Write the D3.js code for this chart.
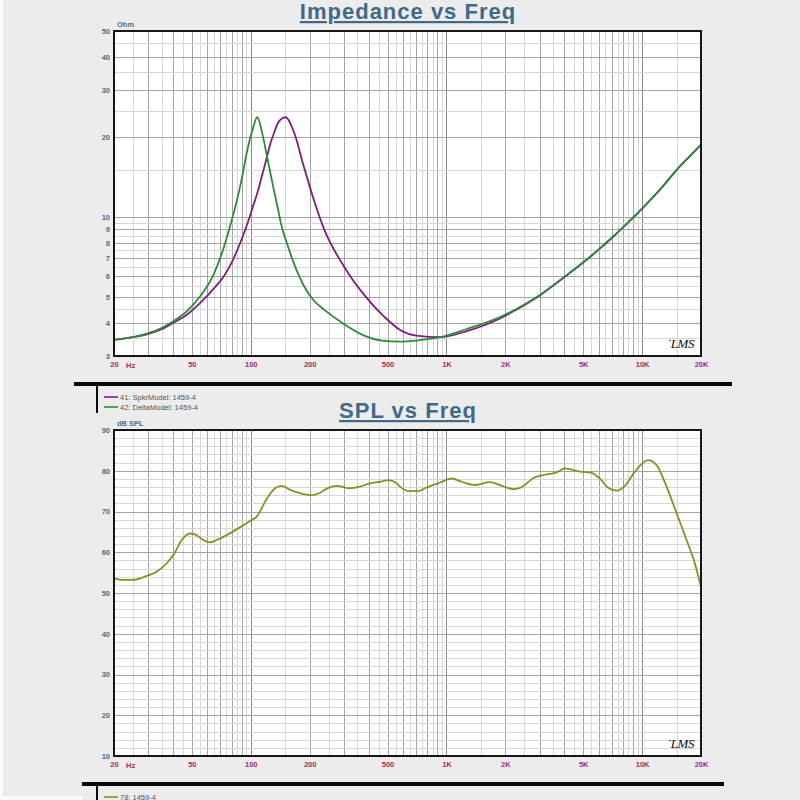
<!doctype html>
<html>
<head>
<meta charset="utf-8">
<title>Impedance / SPL vs Freq</title>
<script src="https://cdnjs.cloudflare.com/ajax/libs/d3/7.8.5/d3.min.js"></script>
<style>
  body { margin: 0; background: #ececec; }
  svg { display: block; font-family: "Liberation Sans", Arial, sans-serif; }
</style>
</head>
<body>
<svg width="800" height="800"></svg>
<script>

/* DATA */

// impedance, both models on the same frequency points
var impFreq  = [20, 25, 30, 35, 40, 47, 55, 65, 73, 80, 89, 96, 100, 102, 108, 115, 121, 126, 131, 137, 145, 151,
                166, 187, 210, 237, 300, 380, 480, 580, 700, 930, 1270, 1880, 2240, 3000, 4000, 5000, 6000, 7000,
                8000, 9000, 10000, 12500, 15000, 17500, 20000];
var impSpkr  = [3.45, 3.53, 3.63, 3.78, 3.99, 4.28, 4.74, 5.40, 6.0, 6.75, 8.1, 9.4, 10.3, 10.8, 12.3, 14.6, 16.8, 18.9, 20.5, 22.4, 23.5, 23.7,
                20.9, 15.4, 11.6, 9.0, 6.5, 5.09, 4.22, 3.76, 3.58, 3.53, 3.72, 4.15, 4.45, 5.07, 5.93, 6.73, 7.53, 8.33,
                9.13, 9.93, 10.75, 12.8, 15.0, 16.9, 18.7];
var impDelta = [3.45, 3.53, 3.66, 3.82, 4.04, 4.41, 5.02, 6.14, 7.73, 9.73, 13.4, 17.8, 20.2, 21.2, 23.7, 20.3, 16.9, 14.6, 12.7, 10.9, 9.0, 8.2,
                6.7, 5.5, 4.85, 4.48, 3.95, 3.58, 3.42, 3.4, 3.43, 3.53, 3.79, 4.2, 4.48, 5.09, 5.95, 6.75, 7.55, 8.35,
                9.15, 9.95, 10.75, 12.8, 15.0, 16.9, 18.7];

// SPL response
var splFreq  = [20, 22.3, 25, 29.4, 33, 37.2, 40.2, 44.4, 48.9, 51.9, 57.2, 61.9, 67, 75.3, 88, 101, 107, 121, 133, 144,
                159, 178, 205, 226, 249, 275, 321, 361, 407, 457, 504, 557, 579, 651, 718, 792, 927, 1063, 1196, 1399,
                1669, 1878, 2195, 2376, 2832, 3250, 3658, 4032, 4808, 5520, 6082, 6710, 7413, 8170, 9190, 10750,
                11860, 13340, 15000, 16880, 18600, 20000];
var splLevel = [53.6, 53.2, 53.2, 54.2, 55.2, 57.3, 59.3, 63.0, 64.6, 64.4, 63.0, 62.4, 63.0, 64.2, 66.1, 67.9, 68.7, 73.2, 75.7, 76.3,
                75.3, 74.5, 74.0, 74.6, 75.8, 76.3, 75.7, 76.1, 76.9, 77.3, 77.7, 76.9, 76.1, 75.0, 75.0, 75.9, 77.1, 78.1, 77.3, 76.5,
                77.2, 76.5, 75.5, 75.8, 78.4, 79.1, 79.6, 80.6, 79.8, 79.5, 78.1, 75.8, 75.1, 76.3, 79.8, 82.6,
                81.4, 76.1, 69.6, 63.0, 57.3, 51.5];

// ticks
var freqTicks  = [20, 50, 100, 200, 500, 1000, 2000, 5000, 10000, 20000];
var freqLabels = ["20", "50", "100", "200", "500", "1K", "2K", "5K", "10K", "20K"];
var ohmTicks   = [3, 4, 5, 6, 7, 8, 9, 10, 20, 30, 40, 50];
var splTicks   = [10, 20, 30, 40, 50, 60, 70, 80, 90];

var legendImp = ["41: SpkrModel: 1459-4", "42: DeltaModel: 1459-4"];
var legendSpl = ["78: 1459-4"];

/* LAYOUT */

var svg = d3.select("svg");
var left = 114, right = 701;
var colSpkr = "#7b1f80", colDelta = "#2f8a3a", colSpl = "#8c8c28";
var labelBlue = "#4f6a8c", labelRed = "#a0305c";

svg.append("rect").attr("width", 800).attr("height", 800).attr("fill", "#ececec");
svg.append("rect").attr("width", 3).attr("height", 800).attr("fill", "#fafafa");

var x = d3.scaleLog().domain([20, 20000]).range([left, right]);

// vertical grid: every half step in each decade, integers darker
var gridF = [];
[10, 100, 1000, 10000].forEach(function(d) {
    for (var m = 1; m < 10; m += 0.5) {
        var f = d * m;
        if (f > 20 && f < 20000) gridF.push({v: f, major: m % 1 === 0, dec: m === 1});
    }
});

function halfSteps(a, b, step) {
    var out = [];
    for (var v = a + step; v < b - 1e-9; v += step) out.push(v);
    return out;
}

function panel(y, top, bottom, hGrid, yTicks, unit) {
    var g = svg.append("g");

    g.append("rect")
        .attr("x", left).attr("y", top)
        .attr("width", right - left).attr("height", bottom - top)
        .attr("fill", "#fff");

    g.selectAll(".vg").data(gridF).enter()
        .append("line")
        .attr("x1", d => Math.round(x(d.v)) + 0.5)
        .attr("x2", d => Math.round(x(d.v)) + 0.5)
        .attr("y1", top).attr("y2", bottom)
        .attr("stroke", d => d.dec ? "#8a8a8a" : (d.major ? "#a4a4a4" : "#d6d6d6"))
        .attr("stroke-width", 1);

    g.selectAll(".hg").data(hGrid).enter()
        .append("line")
        .attr("x1", left).attr("x2", right)
        .attr("y1", d => Math.round(y(d.v)) + 0.5)
        .attr("y2", d => Math.round(y(d.v)) + 0.5)
        .attr("stroke", d => d.major ? "#a4a4a4" : "#d6d6d6")
        .attr("stroke-width", 1);

    // y labels
    var ya = g.append("g")
        .attr("transform", "translate(" + (left - 2) + ",0)")
        .call(d3.axisLeft(y).tickValues(yTicks).tickSize(0).tickPadding(2).tickFormat(d3.format("d")));
    ya.select(".domain").remove();
    ya.selectAll("text")
        .attr("fill", labelBlue)
        .style("font-size", "7.5px").style("font-weight", "bold")
        .style("font-family", "'Liberation Sans', Arial, sans-serif");

    g.append("text")
        .attr("x", left + 3).attr("y", top - 4)
        .attr("fill", labelBlue)
        .style("font-size", "7.5px").style("font-weight", "bold")
        .text(unit);

    // x labels
    var xa = g.append("g")
        .attr("transform", "translate(0," + bottom + ")")
        .call(d3.axisBottom(x).tickValues(freqTicks).tickSize(0).tickPadding(6)
            .tickFormat((d, i) => freqLabels[i]));
    xa.select(".domain").remove();
    xa.selectAll("text")
        .attr("fill", labelRed)
        .style("font-size", "7.5px").style("font-weight", "bold")
        .style("font-family", "'Liberation Sans', Arial, sans-serif");

    g.append("text")
        .attr("x", left + 12).attr("y", bottom + 12)
        .attr("fill", labelRed)
        .style("font-size", "7.5px").style("font-weight", "bold")
        .text("Hz");

    // LMS mark
    g.append("text")
        .attr("x", right - 34).attr("y", bottom - 8)
        .attr("fill", "#111")
        .style("font-family", "'Liberation Serif', serif")
        .style("font-style", "italic")
        .style("font-size", "13px")
        .style("letter-spacing", "-0.5px")
        .text("\u02D9LMS");

    return g;
}

function frame(g, top, bottom) {
    g.append("rect")
        .attr("x", left).attr("y", top)
        .attr("width", right - left).attr("height", bottom - top)
        .attr("fill", "none")
        .attr("stroke", "#161616")
        .attr("stroke-width", 2);
}

function curve(g, y, fs, vs, color) {
    var line = d3.line()
        .x(d => x(d[0]))
        .y(d => y(d[1]))
        .curve(d3.curveMonotoneX);
    g.append("path")
        .datum(d3.zip(fs, vs))
        .attr("d", line)
        .attr("fill", "none")
        .attr("stroke", color)
        .attr("stroke-width", 1.8)
        .attr("stroke-linejoin", "round");
}

function title(txt, cy) {
    svg.append("text")
        .attr("x", 408).attr("y", cy)
        .attr("text-anchor", "middle")
        .attr("fill", "#3f6987")
        .style("font-size", "22px").style("font-weight", "bold")
        .style("letter-spacing", "1px")
        .style("text-decoration", "underline")
        .text(txt);
}

function legend(items, colors, y0) {
    items.forEach(function(t, i) {
        var yy = y0 + i * 10;
        svg.append("line")
            .attr("x1", 104).attr("x2", 118)
            .attr("y1", yy).attr("y2", yy)
            .attr("stroke", colors[i]).attr("stroke-width", 1.6);
        svg.append("text")
            .attr("x", 120).attr("y", yy + 2.5)
            .attr("fill", "#555")
            .style("font-size", "7.5px")
            .text(t);
    });
}

/* IMPEDANCE */

var impTop = 31, impBottom = 356;
var yImp = d3.scaleLog().domain([3, 50]).range([impBottom, impTop]);
var impGrid = halfSteps(3, 10, 0.5).map(v => ({v: v, major: v % 1 === 0}))
    .concat([{v: 10, major: true}])
    .concat(halfSteps(10, 50, 5).map(v => ({v: v, major: v % 10 === 0})));

title("Impedance vs Freq", 19);
var gi = panel(yImp, impTop, impBottom, impGrid, ohmTicks, "Ohm");
curve(gi, yImp, impFreq, impSpkr, colSpkr);
curve(gi, yImp, impFreq, impDelta, colDelta);
frame(gi, impTop, impBottom);

// separator + legend
svg.append("rect").attr("x", 74).attr("y", 382).attr("width", 658).attr("height", 4).attr("fill", "#0a0a0a");
svg.append("rect").attr("x", 96).attr("y", 386).attr("width", 2).attr("height", 27).attr("fill", "#0a0a0a");
legend(legendImp, [colSpkr, colDelta], 397);

/* SPL */

var splTop = 430, splBottom = 756;
var ySpl = d3.scaleLinear().domain([10, 90]).range([splBottom, splTop]);
var splGrid = d3.range(12, 90, 2).map(v => ({v: v, major: v % 10 === 0}));

title("SPL vs Freq", 418);
var gs = panel(ySpl, splTop, splBottom, splGrid, splTicks, "dB SPL");
curve(gs, ySpl, splFreq, splLevel, colSpl);
frame(gs, splTop, splBottom);

svg.append("rect").attr("x", 82).attr("y", 782).attr("width", 642).attr("height", 4).attr("fill", "#0a0a0a");
svg.append("rect").attr("x", 96).attr("y", 786).attr("width", 2).attr("height", 14).attr("fill", "#0a0a0a");
svg.append("rect").attr("x", 0).attr("y", 796).attr("width", 82).attr("height", 4).attr("fill", "#fafafa");
legend(legendSpl, [colSpl], 797);

</script>
</body>
</html>
